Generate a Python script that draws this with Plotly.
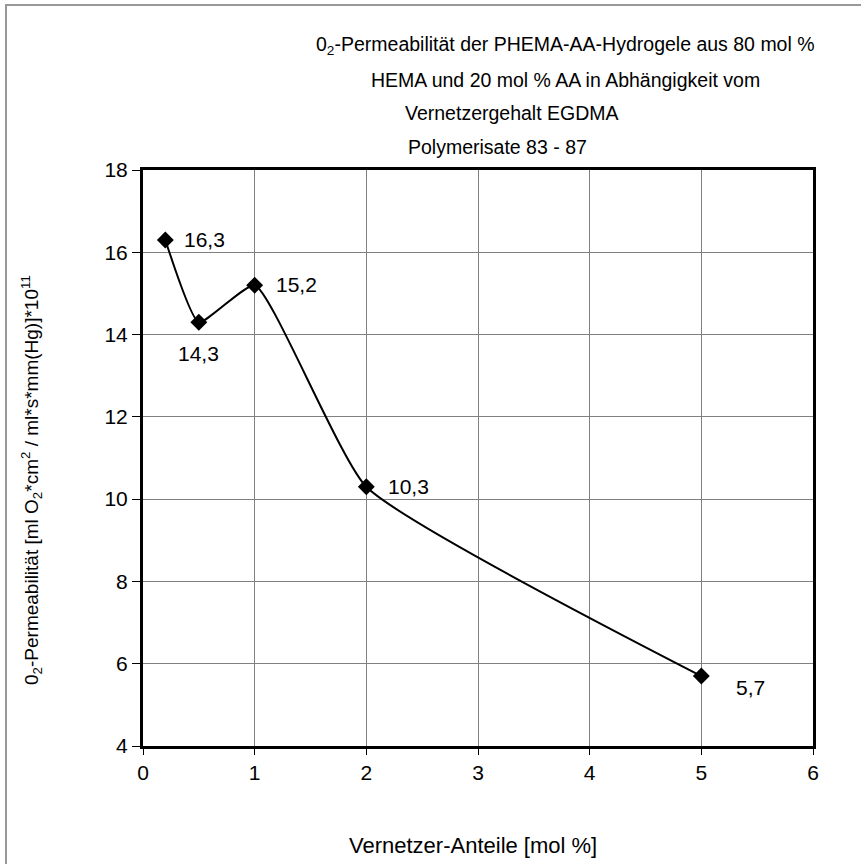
import plotly.graph_objects as go

x_vals = [0.2, 0.5, 1, 2, 5]
y_vals = [16.3, 14.3, 15.2, 10.3, 5.7]
labels = ["16,3", "14,3", "15,2", "10,3", "5,7"]
x_ticks = [0, 1, 2, 3, 4, 5, 6]
y_ticks = [4, 6, 8, 10, 12, 14, 16, 18]
title_lines = [
    "0<sub>2</sub>-Permeabilität der PHEMA-AA-Hydrogele aus 80 mol %",
    "HEMA und 20 mol % AA in Abhängigkeit vom",
    "Vernetzergehalt EGDMA",
    "Polymerisate 83 - 87",
]
x_title = "Vernetzer-Anteile [mol %]"
y_title = "0<sub>2</sub>-Permeabilität [ml O<sub>2</sub>*cm<sup>2</sup> / ml*s*mm(Hg)]*10<sup>11</sup>"

FONT = "Liberation Sans, Arial, sans-serif"
W, H = 861, 864
L, R, T, B = 143, 48, 170, 118
PW, PH = W - L - R, H - T - B


def px_x(p):
    return (p - L) / PW


def px_y(p):
    return (H - B - p) / PH


fig = go.Figure()
fig.add_trace(go.Scatter(
    x=x_vals, y=y_vals, mode="lines+markers",
    line=dict(color="black", width=2, shape="spline", smoothing=0.45),
    marker=dict(symbol="diamond", size=13, color="black"),
    cliponaxis=False, showlegend=False, hoverinfo="skip",
))

# data labels (offset in pixels from each point)
label_offsets = [(17, 0, "left"), (0, -31, "center"), (19, 1, "left"), (20, 0, "left"), (33, -11, "left")]
for xv, yv, t, (dx, dy, anc) in zip(x_vals, y_vals, labels, label_offsets):
    fig.add_annotation(x=xv, y=yv, text=t, showarrow=False, xanchor=anc, yanchor="middle",
                       xshift=dx, yshift=dy, font=dict(family=FONT, size=21, color="black"))

# title lines
title_pos = [(565, 45), (565, 80), (512, 113), (497, 147)]
for t, (cx, cy) in zip(title_lines, title_pos):
    fig.add_annotation(xref="paper", yref="paper", x=px_x(cx), y=px_y(cy), text=t,
                       showarrow=False, xanchor="center", yanchor="middle",
                       font=dict(family=FONT, size=19.5, color="black"))

# axis titles
fig.add_annotation(xref="paper", yref="paper", x=px_x(473), y=px_y(845),
                   text=x_title, showarrow=False, xanchor="center", yanchor="middle",
                   font=dict(family=FONT, size=22, color="black"))
fig.add_annotation(xref="paper", yref="paper", x=px_x(31), y=px_y(480),
                   text=y_title, showarrow=False, textangle=-90,
                   xanchor="center", yanchor="middle",
                   font=dict(family=FONT, size=19, color="black"))

# outer chart border
fig.add_shape(type="rect", xref="paper", yref="paper",
              x0=px_x(6), y0=px_y(900), x1=px_x(900), y1=px_y(5),
              line=dict(color="#999999", width=2), layer="below")

fig.update_layout(
    width=W, height=H,
    margin=dict(l=L, r=R, t=T, b=B),
    paper_bgcolor="white", plot_bgcolor="white",
    font=dict(family=FONT, color="black"),
    xaxis=dict(
        range=[0, 6], tickvals=x_ticks, ticktext=[str(v) for v in x_ticks],
        showgrid=True, gridcolor="#808080", gridwidth=1,
        showline=True, linecolor="black", linewidth=3, mirror=True,
        ticks="outside", ticklen=6, tickcolor="black",
        tickfont=dict(family=FONT, size=21),
        zeroline=False,
    ),
    yaxis=dict(
        range=[4, 18], tickvals=y_ticks, ticktext=[str(v) for v in y_ticks],
        showgrid=True, gridcolor="#808080", gridwidth=1,
        showline=True, linecolor="black", linewidth=3, mirror=True,
        ticks="outside", ticklen=8, tickcolor="black",
        tickfont=dict(family=FONT, size=21),
        zeroline=False,
    ),
)

fig.write_html("out.html", config={"displayModeBar": False},
               post_script="document.body.style.margin='0';")
